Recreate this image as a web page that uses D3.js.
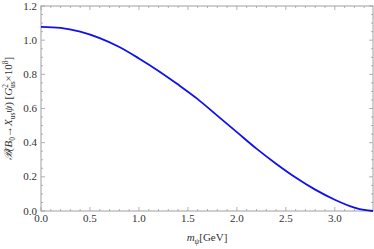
<!DOCTYPE html>
<html>
<head>
<meta charset="utf-8">
<script src="https://cdn.jsdelivr.net/npm/d3@7"></script>
<style>
	body { margin: 0; background: white; }
	svg { display: block; }
	text { font-family: 'Liberation Serif', 'DejaVu Serif', serif; }
</style>
</head>
<body>
<div id="chart"></div>
<script>
// values
const massValues = [0, 0.2, 0.4, 0.6, 0.8, 1.0, 1.2, 1.4, 1.6, 1.8, 2.0, 2.2, 2.4, 2.6, 2.8, 3.0, 3.2, 3.3, 3.39];
const branchingValues = [1.078, 1.072, 1.050, 1.012, 0.960, 0.893, 0.820, 0.740, 0.655, 0.558, 0.462, 0.365, 0.277, 0.196, 0.125, 0.066, 0.020, 0.006, 0];
const xTicks = [0, 0.5, 1.0, 1.5, 2.0, 2.5, 3.0];
const yTicks = [0, 0.2, 0.4, 0.6, 0.8, 1.0, 1.2];

const width = 374;
const height = 249;
const margin = { top: 6, right: 1, bottom: 38, left: 41 };

const svg = d3
	.select('#chart')
	.append('svg')
	.attr('width', width)
	.attr('height', height);

const x = d3.scaleLinear().domain([0, 3.39]).range([margin.left, width - margin.right]);
const y = d3.scaleLinear().domain([0, 1.2]).range([height - margin.bottom, margin.top]);

const frameColor = '#a0a0a0';
const x0 = x.range()[0], x1 = x.range()[1];
const y0 = y.range()[0], y1 = y.range()[1];

// minor ticks every 0.1 / 0.05
const xMinor = d3.range(0, 3.39, 0.1).filter((v) => Math.abs(v * 2 - Math.round(v * 2)) > 1e-6);
const yMinor = d3.range(0, 1.2, 0.05).filter((v) => Math.abs(v * 5 - Math.round(v * 5)) > 1e-6);

const ticks = svg.append('g').attr('stroke', frameColor).attr('stroke-width', 0.8);
xTicks.forEach((v) => {
	ticks.append('line').attr('x1', x(v)).attr('x2', x(v)).attr('y1', y0).attr('y2', y0 - 4);
	ticks.append('line').attr('x1', x(v)).attr('x2', x(v)).attr('y1', y1).attr('y2', y1 + 4);
});
xMinor.forEach((v) => {
	ticks.append('line').attr('x1', x(v)).attr('x2', x(v)).attr('y1', y0).attr('y2', y0 - 2);
	ticks.append('line').attr('x1', x(v)).attr('x2', x(v)).attr('y1', y1).attr('y2', y1 + 2);
});
yTicks.forEach((v) => {
	ticks.append('line').attr('x1', x0).attr('x2', x0 + 4).attr('y1', y(v)).attr('y2', y(v));
	ticks.append('line').attr('x1', x1).attr('x2', x1 - 4).attr('y1', y(v)).attr('y2', y(v));
});
yMinor.forEach((v) => {
	ticks.append('line').attr('x1', x0).attr('x2', x0 + 2).attr('y1', y(v)).attr('y2', y(v));
	ticks.append('line').attr('x1', x1).attr('x2', x1 - 2).attr('y1', y(v)).attr('y2', y(v));
});

// frame
svg.append('rect')
	.attr('x', x0)
	.attr('y', y1)
	.attr('width', x1 - x0)
	.attr('height', y0 - y1)
	.attr('fill', 'none')
	.attr('stroke', frameColor)
	.attr('stroke-width', 1);

// tick labels
svg.append('g')
	.selectAll('text')
	.data(xTicks)
	.enter()
	.append('text')
	.attr('x', (d) => x(d))
	.attr('y', y0 + 11)
	.attr('text-anchor', 'middle')
	.attr('font-size', 11)
	.attr('fill', '#333')
	.text((d) => d.toFixed(1));

svg.append('g')
	.selectAll('text')
	.data(yTicks)
	.enter()
	.append('text')
	.attr('x', x0 - 4)
	.attr('y', (d) => y(d) + 3.5)
	.attr('text-anchor', 'end')
	.attr('font-size', 11)
	.attr('fill', '#333')
	.text((d) => d.toFixed(1));

// curve
const points = massValues.map((m, i) => [m, branchingValues[i]]);
const line = d3
	.line()
	.x((d) => x(d[0]))
	.y((d) => y(d[1]))
	.curve(d3.curveMonotoneX);

svg.append('path')
	.datum(points)
	.attr('d', line)
	.attr('fill', 'none')
	.attr('stroke', '#1010ee')
	.attr('stroke-width', 1.8);

// axis labels
const xLabel = svg.append('text')
	.attr('x', (x0 + x1) / 2)
	.attr('y', 241)
	.attr('text-anchor', 'middle')
	.attr('font-size', 11)
	.attr('fill', '#333');
xLabel.append('tspan').attr('font-style', 'italic').text('m');
xLabel.append('tspan').attr('font-style', 'italic').attr('font-size', 7.5).attr('dy', 2.5).text('ψ');
xLabel.append('tspan').attr('dy', -2.5).text('[GeV]');

const yLabel = svg.append('text')
	.attr('transform', `translate(12,${(y0 + y1) / 2}) rotate(-90)`)
	.attr('text-anchor', 'middle')
	.attr('font-size', 11)
	.attr('fill', '#333');
yLabel.append('tspan').attr('font-style', 'italic').text('ℬ(B');
yLabel.append('tspan').attr('font-size', 7.5).attr('dy', 2.5).text('0');
yLabel.append('tspan').attr('dy', -2.5).text('→');
yLabel.append('tspan').attr('font-style', 'italic').text('X');
yLabel.append('tspan').attr('font-size', 7.5).attr('dy', 2.5).text('us');
yLabel.append('tspan').attr('font-style', 'italic').attr('dy', -2.5).text('ψ');
yLabel.append('tspan').text(') [');
yLabel.append('tspan').attr('font-style', 'italic').text('G');
yLabel.append('tspan').attr('font-size', 7.5).attr('dy', -4).text('2');
yLabel.append('tspan').attr('font-size', 7.5).attr('dx', -4).attr('dy', 6.5).text('us');
yLabel.append('tspan').attr('dy', -2.5).text('×10');
yLabel.append('tspan').attr('font-size', 7.5).attr('dy', -4).text('8');
yLabel.append('tspan').attr('dy', 4).text(']');
</script>
</body>
</html>
